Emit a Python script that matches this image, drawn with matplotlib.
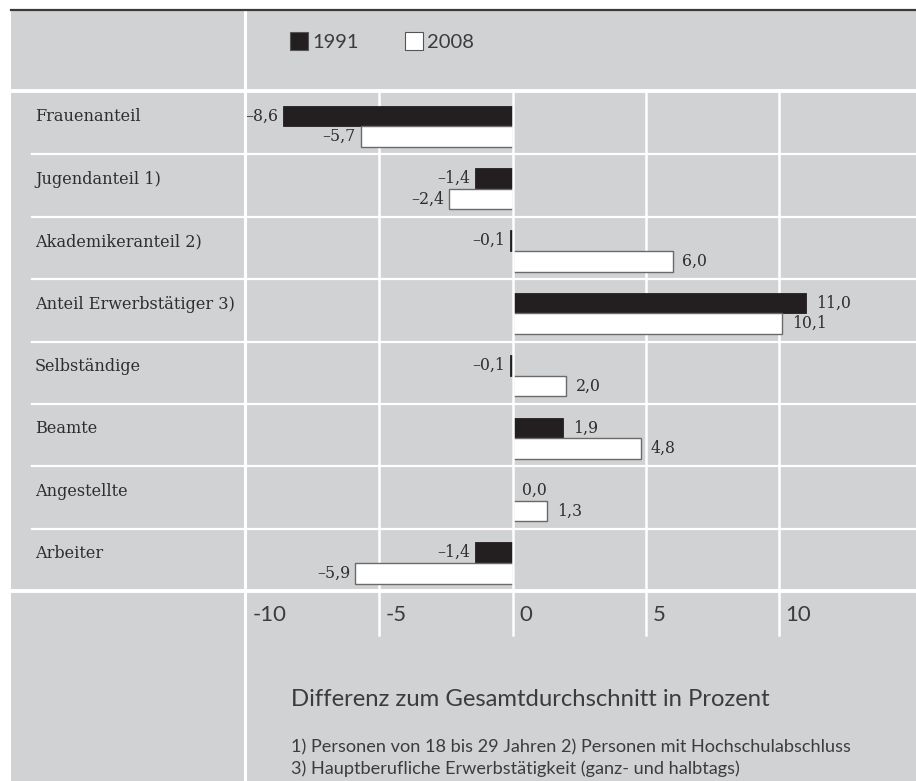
import numpy as np
import matplotlib.pyplot as plt
from matplotlib.lines import Line2D
from matplotlib.patches import Rectangle

# Daten
kategorien = ['Frauenanteil', 'Jugendanteil 1)', 'Akademikeranteil 2)',
              'Anteil Erwerbstätiger 3)', 'Selbständige', 'Beamte',
              'Angestellte', 'Arbeiter']
werte_1991 = [-8.6, -1.4, -0.1, 11.0, -0.1, 1.9, 0.0, -1.4]
werte_2008 = [-5.7, -2.4, 6.0, 10.1, 2.0, 4.8, 1.3, -5.9]
ticks = [-10, -5, 0, 5, 10]
tick_labels = ['-10', '-5', '0', '5', '10']
titel_x = 'Differenz zum Gesamtdurchschnitt in Prozent'
fussnote1 = '1) Personen von 18 bis 29 Jahren 2) Personen mit Hochschulabschluss'
fussnote2 = '3) Hauptberufliche Erwerbstätigkeit (ganz- und halbtags)'

W, H = 916, 781
grau = '#d1d2d4'
text_farbe = '#2e2e2e'
sans_farbe = '#3c3c3c'
serif = ['DejaVu Serif']
sans = ['Lato', 'DejaVu Sans']

fig = plt.figure(figsize=(W / 100, H / 100), dpi=100, facecolor='white')

def fx(px):
    return px / W

def fy(py):
    return 1 - py / H

# grauer Hintergrund
fig.add_artist(Rectangle((fx(11), 0), 1 - fx(11), fy(10), transform=fig.transFigure,
                         facecolor=grau, edgecolor='none', zorder=0))
# dunkle Linie oben
fig.add_artist(Line2D([fx(11), 1], [fy(10), fy(10)], transform=fig.transFigure,
                      color='#3a3a3a', lw=1.6))
# weisse Trennlinien
fig.add_artist(Line2D([fx(245), fx(245)], [0, fy(11)], transform=fig.transFigure,
                      color='white', lw=2.2, zorder=1))
fig.add_artist(Line2D([fx(11), 1], [fy(91), fy(91)], transform=fig.transFigure,
                      color='white', lw=2.8, zorder=1))
fig.add_artist(Line2D([fx(11), 1], [fy(591), fy(591)], transform=fig.transFigure,
                      color='white', lw=2.8, zorder=1))

# Achse fuer Balken
ax = fig.add_axes([fx(246), fy(591), 1 - fx(246), (591 - 92) / H])
ax.patch.set_alpha(0)
n = len(kategorien)
y = np.arange(n)
ax.set_xlim(-10, -10 + (W - 246) / 26.67)
ax.set_ylim(n - 0.5, -0.5)
for s in ax.spines.values():
    s.set_visible(False)
ax.set_xticks([])
ax.set_yticks([])

# Zeilen-Trennlinien
for i in range(1, n):
    ax.plot([-10, 20], [i - 0.5, i - 0.5], color='white', lw=1.6, zorder=1, clip_on=True)
    yy = ax.transData.transform((0, i - 0.5))[1] / H
    fig.add_artist(Line2D([fx(32), fx(245)], [yy, yy], color='white', lw=1.6, zorder=1,
                          transform=fig.transFigure))

# Gitterlinien (bis in den Tickbereich), Null-Linie ueber den Balken
for t in ticks[1:]:
    ax.axvline(t, ymin=-44 / 499, ymax=1, color='white', lw=1.8,
               zorder=4 if t == 0 else 1, clip_on=False)

h = 0.33
off = 0.05
ax.barh(y - h / 2 + off, werte_1991, height=h, color='#231f20', edgecolor='#231f20',
        lw=0.6, zorder=3)
ax.barh(y + h / 2 + off, werte_2008, height=h, color='white', edgecolor='#6a6a6a',
        lw=1.0, zorder=3)

def fmt(v):
    return ('%.1f' % v).replace('.', ',').replace('-', '\u2013')

for i in range(n):
    for v, yy in ((werte_1991[i], y[i] - h / 2 + off), (werte_2008[i], y[i] + h / 2 + off)):
        if v < 0:
            ax.annotate(fmt(v), xy=(v, yy), xytext=(-3.5, 0), textcoords='offset points',
                        ha='right', va='center', fontsize=11.3, family=serif,
                        color=text_farbe)
        else:
            ax.annotate(fmt(v), xy=(v, yy), xytext=(7, 0), textcoords='offset points',
                        ha='left', va='center', fontsize=11.3, family=serif,
                        color=text_farbe)
    ax.annotate(kategorien[i], xy=(35, y[i] - 0.1), xycoords=('figure pixels', 'data'),
                ha='left', va='center', fontsize=11.6, family=serif, color=text_farbe,
                annotation_clip=False)

# Tick-Beschriftungen
for t, lab in zip(ticks, tick_labels):
    ax.annotate(lab, xy=(t, 0), xycoords=ax.get_xaxis_transform(), xytext=(4.5, -17),
                textcoords='offset points', ha='left', va='center', fontsize=16,
                family=sans, color=sans_farbe, annotation_clip=False)

# Legende
for x0, farbe, lab in ((290, '#231f20', '1991'), (405, 'white', '2008')):
    fig.add_artist(Rectangle((fx(x0), fy(50)), fx(18), 18 / H, transform=fig.transFigure,
                             facecolor=farbe, edgecolor='#555555', lw=0.8))
    fig.text(fx(x0 + 22), fy(42), lab, ha='left', va='center', fontsize=14.5,
             family=sans, color=sans_farbe)

fig.text(fx(291), fy(700), titel_x, ha='left', va='center', fontsize=17.2,
         family=sans, color=sans_farbe)
fig.text(fx(291), fy(747), fussnote1, ha='left', va='center', fontsize=13.1,
         family=sans, color=sans_farbe)
fig.text(fx(291), fy(769), fussnote2, ha='left', va='center', fontsize=13.1,
         family=sans, color=sans_farbe)

fig.savefig('out.png', dpi=100, facecolor='white')
